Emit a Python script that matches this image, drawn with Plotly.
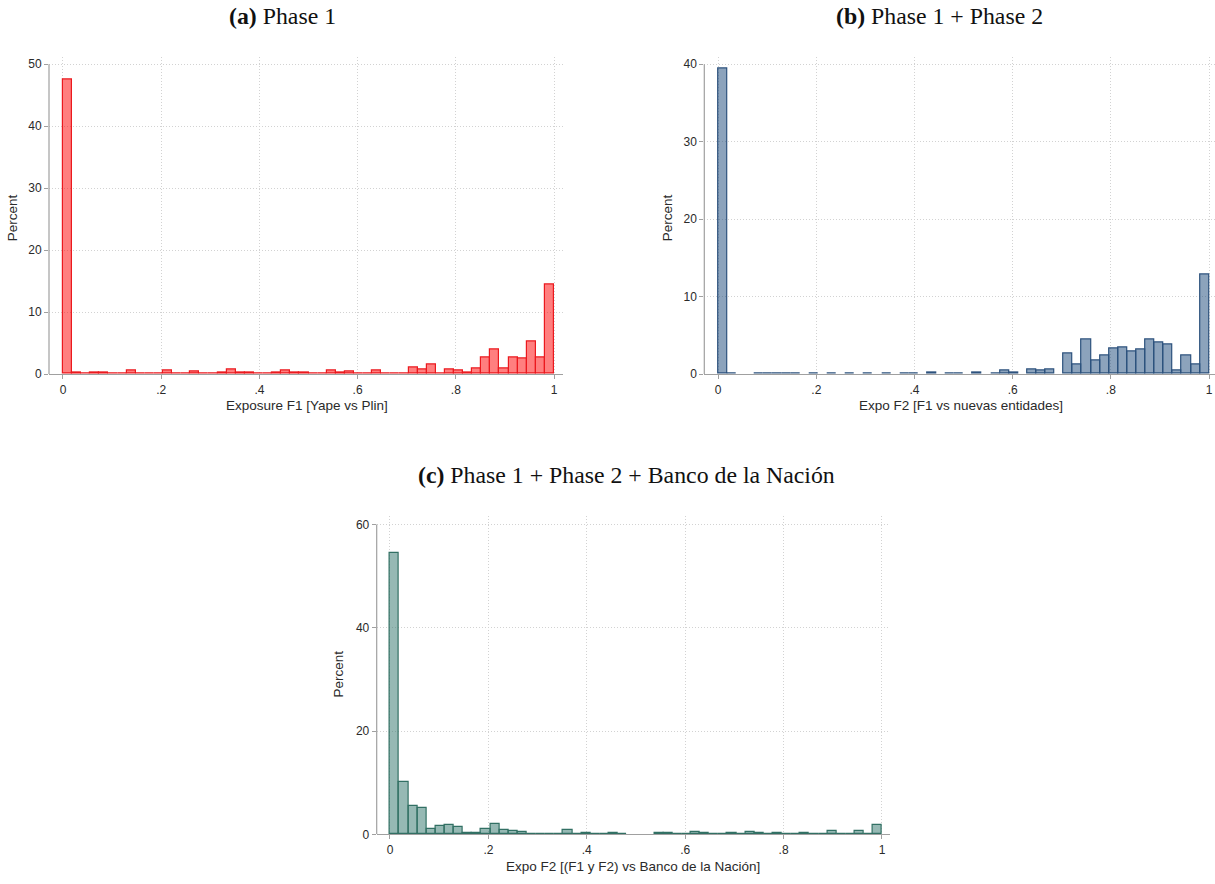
import plotly.graph_objects as go

# ---------------- data (percent per bin, 54 equal bins over [0, 1]) ----------------
n_bins = 54
bin_min, bin_max = 0.0, 1.0

phase1_pct = [47.5, 0.2, 0.1, 0.2, 0.25, 0.05, 0.1, 0.53, 0.1, 0.1,
              0.1, 0.6, 0.1, 0.05, 0.45, 0.1, 0.05, 0.25, 0.75, 0.2,
              0.2, 0.05, 0.1, 0.25, 0.6, 0.2, 0.2, 0.1, 0.05, 0.55,
              0.27, 0.43, 0.1, 0.1, 0.64, 0.1, 0.1, 0.1, 1.12, 0.75,
              1.55, 0.02, 0.75, 0.6, 0.27, 0.96, 2.72, 3.95, 0.96, 2.72,
              2.5, 5.3, 2.72, 14.4]

phase12_pct = [39.4, 0.05, 0.0, 0.0, 0.05, 0.05, 0.08, 0.05, 0.05, 0.0,
               0.05, 0.0, 0.04, 0.0, 0.12, 0.0, 0.05, 0.0, 0.05, 0.0,
               0.12, 0.04, 0.0, 0.2, 0.0, 0.04, 0.04, 0.0, 0.15, 0.0,
               0.05, 0.43, 0.2, 0.0, 0.55, 0.43, 0.55, 0.0, 2.65, 1.2,
               4.44, 1.8, 2.35, 3.25, 3.38, 2.95, 3.12, 4.44, 4.1, 3.8,
               0.47, 2.35, 1.24, 12.78]

phase12bn_pct = [54.6, 10.07, 5.45, 5.13, 1.03, 1.67, 1.8, 1.47, 0.2, 0.2,
                 1.03, 1.99, 0.83, 0.64, 0.45, 0.06, 0.06, 0.12, 0.02, 0.83,
                 0.03, 0.25, 0.06, 0.06, 0.2, 0.06, 0.0, 0.0, 0.0, 0.3,
                 0.25, 0.06, 0.03, 0.45, 0.25, 0.06, 0.06, 0.38, 0.06, 0.45,
                 0.25, 0.06, 0.25, 0.12, 0.03, 0.25, 0.12, 0.03, 0.58, 0.06,
                 0.06, 0.64, 0.06, 1.8]

x_tickvals = [0, 0.2, 0.4, 0.6, 0.8, 1]
x_ticktext = ["0", ".2", ".4", ".6", ".8", "1"]

titles = ["<b>(a)</b> Phase 1", "<b>(b)</b> Phase 1 + Phase 2",
          "<b>(c)</b> Phase 1 + Phase 2 + Banco de la Nación"]
x_titles = ["Exposure F1 [Yape vs Plin]", "Expo F2 [F1 vs nuevas entidades]",
            "Expo F2 [(F1 y F2) vs Banco de la Nación]"]
y_title = "Percent"
y_ticks = [[0, 10, 20, 30, 40, 50], [0, 10, 20, 30, 40], [0, 20, 40, 60]]

# ---------------- layout geometry ----------------
W, H = 1215, 884
bw = (bin_max - bin_min) / n_bins
centers = [bin_min + (k + 0.5) * bw for k in range(n_bins)]

panels = [
    dict(vals=phase1_pct, fill="rgba(255,0,0,0.5)", line="rgb(235,25,30)",
         px=(49, 563), py=(57, 377), xr=(-0.0285, 1.0183), yr=(0, 51.23),
         ytop=50, ttl=(282, 16), xt=(306.5, 409), yt=(12, 220)),
    dict(vals=phase12_pct, fill="rgba(26,71,121,0.5)", line="rgb(45,82,125)",
         px=(704.3, 1215), py=(57, 377), xr=(-0.0283, 1.0122), yr=(0, 40.99),
         ytop=40, ttl=(939, 16), xt=(961, 409), yt=(667, 220)),
    dict(vals=phase12bn_pct, fill="rgba(45,115,105,0.5)", line="rgb(50,112,100)",
         px=(376.7, 890), py=(520, 841), xr=(-0.027, 1.0163), yr=(0, 61.67),
         ytop=60, ttl=(626, 479), xt=(633, 873), yt=(339, 680)),
]

fig = go.Figure()
annotations = []
shapes = []
tick_font = dict(family="Liberation Sans, Arial, sans-serif", size=12, color="#2a2a2a")
ttl_font = dict(family="Liberation Sans, Arial, sans-serif", size=13.5, color="#2a2a2a")
grid_col = "#d2d2d2"
axis_col = "#a0a0a0"

for i, p in enumerate(panels):
    sfx = "" if i == 0 else str(i + 1)
    xa, ya = "x" + sfx, "y" + sfx
    yvals = [v if v > 0 else None for v in p["vals"]]
    fig.add_trace(go.Bar(
        x=centers, y=yvals, width=bw, xaxis=xa, yaxis=ya,
        marker=dict(color=p["fill"], line=dict(color=p["line"], width=1.2)),
        showlegend=False, hoverinfo="x+y"))
    xdom = [p["px"][0] / W, p["px"][1] / W]
    ydom = [1 - p["py"][1] / H, 1 - p["py"][0] / H]
    fig.layout["xaxis" + sfx] = dict(
        domain=xdom, range=list(p["xr"]), anchor=ya,
        tickvals=x_tickvals, ticktext=x_ticktext, ticks="outside", ticklen=4,
        tickcolor=axis_col, tickfont=tick_font, showgrid=True, gridcolor=grid_col,
        griddash="1px,2px", gridwidth=1, zeroline=False, showline=True,
        linecolor=axis_col, linewidth=1.2, fixedrange=True)
    fig.layout["yaxis" + sfx] = dict(
        domain=ydom, range=list(p["yr"]), anchor=xa,
        tickvals=y_ticks[i], ticks="outside", ticklen=4, tickcolor=axis_col,
        tickfont=tick_font, showgrid=True, gridcolor=grid_col, griddash="1px,2px",
        gridwidth=1, zeroline=False, showline=False, fixedrange=True)
    # y axis line spanning only the labelled range
    shapes.append(dict(type="line", xref=xa + " domain", x0=0, x1=0,
                       yref=ya, y0=0, y1=p["ytop"],
                       line=dict(color=axis_col, width=1.2)))
    annotations.append(dict(text=titles[i], x=p["ttl"][0] / W, y=1 - p["ttl"][1] / H,
                            xref="paper", yref="paper", xanchor="center", yanchor="middle",
                            showarrow=False,
                            font=dict(family="Liberation Serif, Times New Roman, serif",
                                      size=23.8, color="#111111")))
    annotations.append(dict(text=x_titles[i], x=p["xt"][0] / W, y=1 - p["xt"][1] / H,
                            xref="paper", yref="paper", xanchor="center", yanchor="middle",
                            showarrow=False, font=ttl_font))
    annotations.append(dict(text=y_title, x=p["yt"][0] / W, y=1 - p["yt"][1] / H,
                            xref="paper", yref="paper", xanchor="center", yanchor="middle",
                            textangle=-90, showarrow=False, font=ttl_font))

fig.update_layout(
    width=W, height=H, margin=dict(l=0, r=0, t=0, b=0),
    paper_bgcolor="white", plot_bgcolor="white", bargap=0,
    annotations=annotations, shapes=shapes,
)

fig.write_html("out.html")
